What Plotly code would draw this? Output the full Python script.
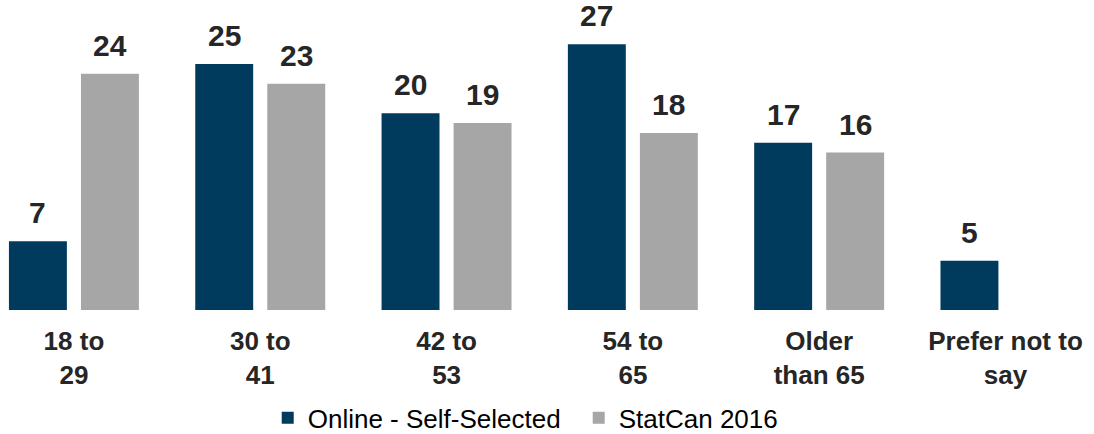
import plotly.graph_objects as go

# ==========================================================
# DONNÉES
# ==========================================================
categories = ["18 to<br>29", "30 to<br>41", "42 to<br>53", "54 to<br>65",
              "Older<br>than 65", "Prefer not to<br>say"]
online = [7, 25, 20, 27, 17, 5]
statcan = [24, 23, 19, 18, 16, None]

NAVY = "#003B5E"
GRAY = "#A6A6A6"
TXT = "#262626"
FONT = "Liberation Sans, Arial, sans-serif"

BAR_W = 0.311
series = [
    ("Online - Self-Selected", online, NAVY, -0.349),
    ("StatCan 2016", statcan, GRAY, 0.0376),
]

fig = go.Figure()
for name, values, color, off in series:
    fig.add_trace(go.Bar(
        x=categories, y=values, name=name,
        marker=dict(color=color, line=dict(width=0)),
        width=BAR_W, offset=off, cliponaxis=False,
    ))
    # étiquettes de valeurs au-dessus des barres
    for i, v in enumerate(values):
        if v is None:
            continue
        fig.add_annotation(
            x=i + off + BAR_W / 2, y=v, xref="x", yref="y",
            text=f"<b>{v}</b>", showarrow=False,
            yanchor="bottom", yshift=10,
            font=dict(family=FONT, size=30, color=TXT),
        )

fig.update_layout(
    width=1094, height=434,
    margin=dict(l=0, r=0, t=5, b=124),
    plot_bgcolor="white", paper_bgcolor="white",
    font=dict(family=FONT, color=TXT),
    barmode="overlay",
    showlegend=True,
    legend=dict(
        orientation="h", x=0.529, xanchor="center",
        yref="container", y=0.037, yanchor="middle",
        font=dict(size=26, color="#000000"),
        entrywidth=266,
    ),
    xaxis=dict(
        type="category", range=[-0.397, 5.475], automargin=False,
        showgrid=False, showline=False, zeroline=False, ticks="",
        tickfont=dict(size=26, color=TXT, weight="bold"),
        ticklabelstandoff=13,
    ),
    yaxis=dict(
        range=[0, 31], visible=False, showgrid=False, zeroline=False,
        automargin=False,
    ),
)

# la page HTML ajoute une marge de 8 px autour du graphique
fig.write_html(
    "out.html",
    config={"displayModeBar": False},
    post_script="document.body.style.margin='0';",
)
